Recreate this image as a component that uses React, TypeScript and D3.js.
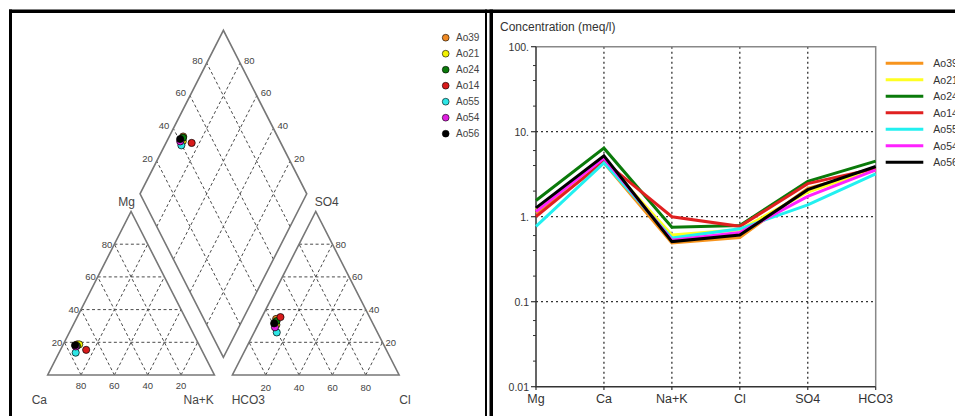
import React from "react";
import * as d3 from "d3";

// samples and their ion concentrations in meq/l
const samples = ["Ao39", "Ao21", "Ao24", "Ao14", "Ao55", "Ao54", "Ao56"];
const ions = ["Mg", "Ca", "Na+K", "Cl", "SO4", "HCO3"];
const mg = [1.1, 1.2, 1.55, 1.0, 0.77, 1.15, 1.27];
const ca = [4.3, 4.6, 6.4, 4.5, 4.3, 4.9, 5.2];
const naK = [0.49, 0.61, 0.75, 1.0, 0.56, 0.53, 0.51];
const cl = [0.57, 0.7, 0.79, 0.77, 0.72, 0.65, 0.61];
const so4 = [2.15, 1.95, 2.6, 2.45, 1.38, 1.73, 2.08];
const hco3 = [3.55, 3.7, 4.5, 3.7, 3.2, 3.55, 3.9];

const markerColors = ["#f08a24", "#f2f200", "#0b7a0b", "#d81b1b", "#2ee6e6", "#e020e0", "#000000"];
const lineColors = ["#f7941d", "#ffff22", "#0a7a0a", "#e02020", "#22f0f0", "#ff22ff", "#000000"];

const gridVals = [0.2, 0.4, 0.6, 0.8];
const logTicks = [100, 10, 1, 0.1, 0.01];
const logTickLabels = ["100.", "10.", "1.", "0.1", "0.01"];
const minorMult = [2, 4, 6];

const FONT = "'Liberation Sans', Arial, sans-serif";
const TXT = "#444";

// piper layout
const x0 = 47.7;
const side = 166.7;
const gap = 18;
const baseY = 375;
const triH = 163.5;
const dOff = (gap * triH) / side;

const catX = d3.scaleLinear().domain([0, 1]).range([x0, x0 + side]);
const anX = d3.scaleLinear().domain([0, 1]).range([x0 + side + gap, x0 + 2 * side + gap]);
const triY = d3.scaleLinear().domain([0, 1]).range([baseY, baseY - triH]);
const bx = x0 + side + gap / 2;
const by = baseY - dOff;
const dX = d3.scaleLinear().domain([-1, 1]).range([bx - side / 2, bx + side / 2]);
const dY = d3.scaleLinear().domain([0, 2]).range([by, by - 2 * triH]);

// t = top fraction, r = right-corner fraction
const catPt = (t: number, r: number): [number, number] => [catX(r + t / 2), triY(t)];
const anPt = (t: number, r: number): [number, number] => [anX(r + t / 2), triY(t)];
// a = Na+K fraction, c = HCO3 fraction
const diaPt = (a: number, c: number): [number, number] => [dX(a - c), dY(2 - a - c)];

// schoeller
const sx = d3.scalePoint<string>().domain(ions).range([536, 875.7]);
const sy = d3.scaleLog().domain([0.01, 100]).range([386.7, 46.7]);

const seg = (p: [number, number], q: [number, number], key: string, props: any) => (
  <line key={key} x1={p[0]} y1={p[1]} x2={q[0]} y2={q[1]} {...props} />
);

export default function App() {
  const dash = { stroke: "#4a4a4a", strokeWidth: 1, strokeDasharray: "3 2.5", fill: "none" };
  const edge = { stroke: "#777", strokeWidth: 1.6, fill: "none" };
  const num = { fontFamily: FONT, fontSize: 9.5, fill: TXT };

  const pts = samples.map((_, i) => {
    const ct = mg[i] + ca[i] + naK[i];
    const at = cl[i] + so4[i] + hco3[i];
    const fMg = mg[i] / ct, fNa = naK[i] / ct;
    const fSo = so4[i] / at, fCl = cl[i] / at, fH = hco3[i] / at;
    return { c: catPt(fMg, fNa), a: anPt(fSo, fCl), d: diaPt(fNa, fH) };
  });

  const series = samples.map((_, i) => [mg[i], ca[i], naK[i], cl[i], so4[i], hco3[i]]);
  const line = d3
    .line<number>()
    .x((_, j) => sx(ions[j]) as number)
    .y((v) => sy(v));

  const minors: number[] = [];
  logTicks.slice(1).forEach((d) => minorMult.forEach((m) => minors.push(d * m)));

  const tri = (f: (t: number, r: number) => [number, number]) =>
    [f(0, 0), f(0, 1), f(1, 0)].map((p) => p.join(",")).join(" ");
  const dia = [diaPt(1, 1), diaPt(0, 1), diaPt(0, 0), diaPt(1, 0)].map((p) => p.join(",")).join(" ");

  return (
    <svg width={955} height={416} style={{ position: "absolute", left: 0, top: 0, background: "#fff" }}>
      <rect x={0} y={0} width={955} height={416} fill="#fff" />

      {/* piper grids */}
      {gridVals.map((v) => (
        <g key={"cg" + v}>
          {seg(catPt(v, 0), catPt(v, 1 - v), "h", dash)}
          {seg(catPt(0, v), catPt(1 - v, v), "n", dash)}
          {seg(catPt(0, 1 - v), catPt(1 - v, 0), "c", dash)}
          {seg(anPt(v, 0), anPt(v, 1 - v), "ah", dash)}
          {seg(anPt(0, v), anPt(1 - v, v), "an", dash)}
          {seg(anPt(0, 1 - v), anPt(1 - v, 0), "ac", dash)}
          {seg(diaPt(1, 1 - v), diaPt(0, 1 - v), "dc", dash)}
          {seg(diaPt(1 - v, 1), diaPt(1 - v, 0), "da", dash)}
        </g>
      ))}
      <polygon points={tri(catPt)} {...edge} />
      <polygon points={tri(anPt)} {...edge} />
      <polygon points={dia} {...edge} />

      {/* piper tick labels */}
      {gridVals.map((v) => {
        const l = catPt(v, 0);
        const b = catPt(0, v);
        const r = anPt(v, 1 - v);
        const ab = anPt(0, v);
        const dl = diaPt(0, 1 - v);
        const dr = diaPt(1 - v, 0);
        const lab = String(Math.round(v * 100));
        return (
          <g key={"tl" + v}>
            <text x={l[0] - 2} y={l[1]} textAnchor="end" dominantBaseline="central" {...num}>{lab}</text>
            <text x={b[0]} y={b[1] + 10} textAnchor="middle" dominantBaseline="central" {...num}>
              {String(Math.round((1 - v) * 100))}
            </text>
            <text x={r[0] + 3} y={r[1]} textAnchor="start" dominantBaseline="central" {...num}>{lab}</text>
            <text x={ab[0]} y={ab[1] + 12} textAnchor="middle" dominantBaseline="central" {...num}>{lab}</text>
            <text x={dl[0] - 4} y={dl[1] - 3} textAnchor="end" dominantBaseline="central" {...num}>{lab}</text>
            <text x={dr[0] + 4} y={dr[1] - 3} textAnchor="start" dominantBaseline="central" {...num}>{lab}</text>
          </g>
        );
      })}

      {[
        ["Mg", 126.7, 202],
        ["SO4", 326.7, 202],
        ["Ca", 39.3, 400],
        ["Na+K", 198.7, 400],
        ["HCO3", 248.3, 400],
        ["Cl", 405, 400],
      ].map(([t, x, y]) => (
        <text key={t as string} x={x as number} y={y as number} textAnchor="middle" dominantBaseline="central"
          fontFamily={FONT} fontSize={12} fill={TXT}>{t}</text>
      ))}

      {/* piper points */}
      {pts.map((p, i) => (
        <g key={"p" + i} fill={markerColors[i]} stroke="#000" strokeWidth={0.7}>
          <circle cx={p.c[0]} cy={p.c[1]} r={3.6} />
          <circle cx={p.a[0]} cy={p.a[1]} r={3.6} />
          <circle cx={p.d[0]} cy={p.d[1]} r={3.6} />
        </g>
      ))}

      {/* piper legend */}
      {samples.map((s, i) => (
        <g key={"lg" + s}>
          <circle cx={445.7} cy={37.7 + i * 16} r={3.4} fill={markerColors[i]} stroke="#000" strokeWidth={0.6} />
          <text x={456} y={37.7 + i * 16} dominantBaseline="central" fontFamily={FONT} fontSize={10} fill={TXT}>{s}</text>
        </g>
      ))}

      {/* schoeller */}
      <text x={500} y={26.5} dominantBaseline="central" fontFamily={FONT} fontSize={12} fill="#333">
        Concentration (meq/l)
      </text>
      {logTicks.slice(1, 4).map((v) => (
        <line key={"hg" + v} x1={536} x2={875.7} y1={sy(v)} y2={sy(v)} stroke="#333" strokeWidth={1.3} strokeDasharray="2 3" />
      ))}
      {ions.slice(1, 5).map((c) => (
        <line key={"vg" + c} x1={sx(c)} x2={sx(c)} y1={46.7} y2={386.7} stroke="#333" strokeWidth={1.3} strokeDasharray="2 3" />
      ))}
      <polyline points={`536,46.7 875.7,46.7 875.7,386.7`} fill="none" stroke="#888" strokeWidth={1.5} />
      <polyline points={`536,46.7 536,386.7 875.7,386.7`} fill="none" stroke="#333" strokeWidth={1.5} />
      {logTicks.map((v, i) => (
        <g key={"yt" + v}>
          <line x1={531} x2={536} y1={sy(v)} y2={sy(v)} stroke="#333" strokeWidth={1.2} />
          <text x={529} y={sy(v)} textAnchor="end" dominantBaseline="central" fontFamily={FONT} fontSize={10.5} fill="#333">
            {logTickLabels[i]}
          </text>
        </g>
      ))}
      {minors.map((v) => (
        <line key={"mt" + v} x1={533} x2={536} y1={sy(v)} y2={sy(v)} stroke="#333" strokeWidth={1} />
      ))}
      {ions.map((c) => (
        <g key={"xt" + c}>
          <line x1={sx(c)} x2={sx(c)} y1={386.7} y2={390} stroke="#333" strokeWidth={1.2} />
          <text x={sx(c)} y={398.5} textAnchor="middle" dominantBaseline="central" fontFamily={FONT} fontSize={12.5} fill="#333">
            {c}
          </text>
        </g>
      ))}
      {series.map((d, i) => (
        <path key={"ln" + i} d={line(d) as string} fill="none" stroke={lineColors[i]} strokeWidth={3} strokeLinejoin="miter" />
      ))}
      {/* legend runs past the right edge, as in the source image */}
      {samples.map((s, i) => (
        <g key={"sl" + s}>
          <line x1={885.7} x2={923.3} y1={63.3 + i * 16.5} y2={63.3 + i * 16.5} stroke={lineColors[i]} strokeWidth={3} />
          <text x={933.3} y={63.3 + i * 16.5} dominantBaseline="central" fontFamily={FONT} fontSize={10.5} fill="#333">{s}</text>
        </g>
      ))}

      {/* frame borders */}
      <rect x={9} y={9.5} width={946} height={3.5} fill="#000" />
      <rect x={9} y={9.5} width={3} height={407} fill="#000" />
      <rect x={485} y={9.5} width={2} height={407} fill="#000" />
      <rect x={489.5} y={9.5} width={3.5} height={407} fill="#000" />
    </svg>
  );
}
